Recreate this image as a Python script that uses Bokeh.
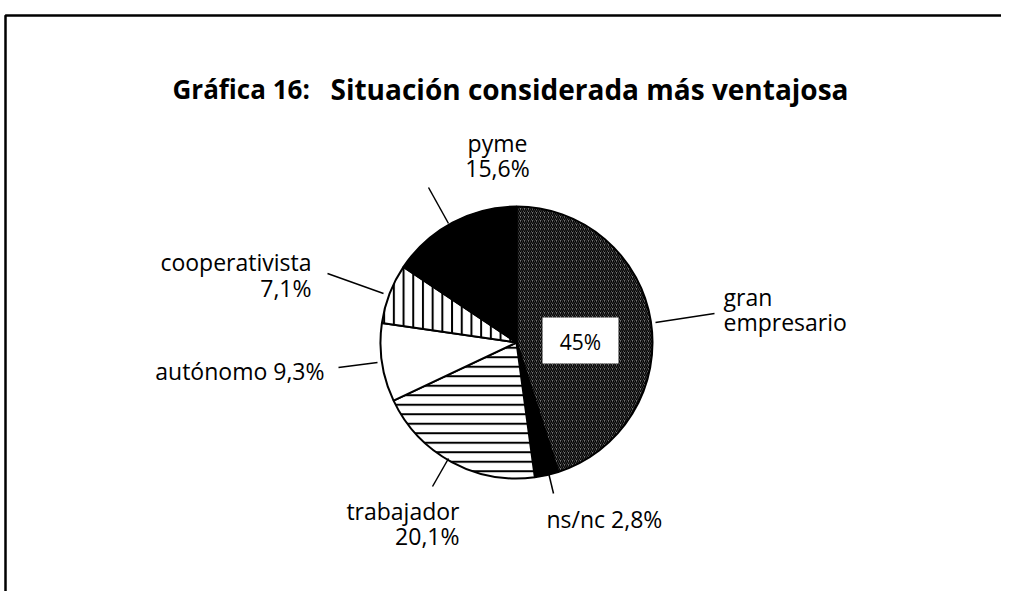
import math
from bokeh.plotting import figure
from bokeh.models import Range1d
from bokeh.core.properties import value
from bokeh.embed import file_html
from bokeh.resources import INLINE

# ---- data ----
categories = ["gran empresario", "ns/nc", "trabajador", "autónomo", "cooperativista", "pyme"]
values = [45.0, 2.8, 20.1, 9.3, 7.1, 15.6]
title_parts = ["Gráfica 16:", "Situación considerada más ventajosa"]

# ---- styles per slice ----
fills = ["#737373", "black", "white", "white", "white", "black"]
hatches = ["right_diagonal_line", " ", "horizontal_line", " ", "vertical_line", " "]
hatch_scales = [4, 10, 9.5, 10, 9.7, 10]
hatch_weights = [1.4, 1, 2, 1, 2, 1]

W, H = 1001, 591
def X(px):
    return px
def Y(py):
    return H - py

p = figure(width=W, height=H, x_range=Range1d(0, W), y_range=Range1d(0, H),
           output_backend="svg", toolbar_location=None, min_border=0)
p.axis.visible = False
p.grid.visible = False
p.outline_line_color = None
p.background_fill_color = "white"
p.border_fill_color = "white"

# frame
p.line([X(5), X(5), X(1017)], [Y(607), Y(15), Y(15)], line_color="black", line_width=2.5)

FONT = "Open Sans"

# title
p.text([X(172)], [Y(88)], text=[title_parts[0]], text_font=value(FONT), text_font_style="bold",
       text_font_size="26px", text_baseline="middle", text_align="left", text_color="black")
p.text([X(330)], [Y(88)], text=[title_parts[1]], text_font=value(FONT), text_font_style="bold",
       text_font_size="28px", text_baseline="middle", text_align="left", text_color="black")

# pie
cx, cy, r = X(516), Y(342), 136
total = sum(values)
cum = 0.0
for i, v in enumerate(values):
    a0 = math.pi / 2 - 2 * math.pi * cum / total
    cum += v
    a1 = math.pi / 2 - 2 * math.pi * cum / total
    p.wedge(x=[cx], y=[cy], radius=r, start_angle=a0, end_angle=a1, direction="clock",
            fill_color=fills[i], line_color="black", line_width=2,
            hatch_pattern=hatches[i], hatch_color="black",
            hatch_scale=hatch_scales[i], hatch_weight=hatch_weights[i])

def fmt(v):
    s = ("%.1f" % v).replace(".", ",")
    if s.endswith(",0"):
        s = s[:-2]
    return s + "%"

# leader lines (page coords)
leaders = [
    ((655, 322), (714, 313)),   # gran empresario
    ((547, 468), (553, 493)),   # ns/nc
    ((448, 458), (432, 486)),   # trabajador
    ((377, 362), (338, 367)),   # autónomo
    ((383, 293), (327, 273)),   # cooperativista
    ((448, 223), (428, 187)),   # pyme
]
p.segment(x0=[X(a[0]) for a, b in leaders], y0=[Y(a[1]) for a, b in leaders],
          x1=[X(b[0]) for a, b in leaders], y1=[Y(b[1]) for a, b in leaders],
          line_color="black", line_width=1.5)

# labels: (text, x, y, align)
lab = []
lab.append(("gran", 723, 296, "left"))
lab.append(("empresario", 723, 321, "left"))
lab.append((categories[1] + " " + fmt(values[1]), 546, 518, "left"))
lab.append((categories[2], 459, 510, "right"))
lab.append((fmt(values[2]), 459, 535, "right"))
lab.append((categories[3] + " " + fmt(values[3]), 324, 370, "right"))
lab.append((categories[4], 311, 261, "right"))
lab.append((fmt(values[4]), 311, 287, "right"))
lab.append((categories[5], 497, 142, "center"))
lab.append((fmt(values[5]), 497, 167, "center"))
for t, x, y, al in lab:
    p.text([X(x)], [Y(y)], text=[t], text_font=value(FONT), text_font_size="23px",
           text_baseline="middle", text_align=al, text_color="black")

# 45% box
p.rect([X(580)], [Y(340)], width=76, height=46, fill_color="white", line_color=None)
p.text([X(580)], [Y(341)], text=[fmt(values[0])], text_font=value(FONT), text_font_size="21px",
       text_baseline="middle", text_align="center", text_color="black")

open("out.html", "w").write(file_html(p, INLINE))
